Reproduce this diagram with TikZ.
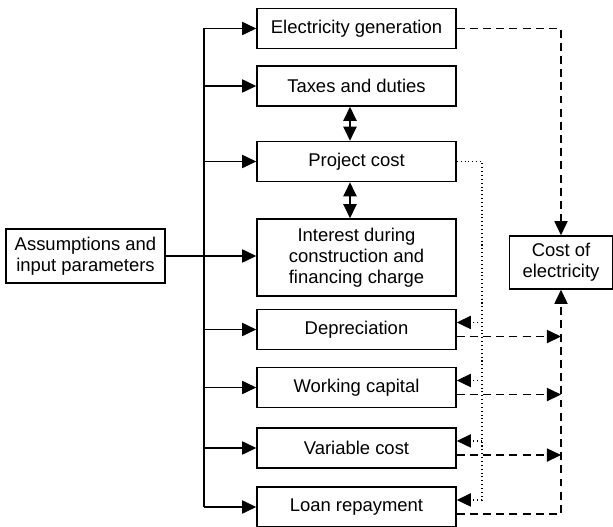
\documentclass[tikz,border=0pt]{standalone}
\usepackage{fontspec}
\setmainfont{Liberation Sans}
\usetikzlibrary{arrows.meta}

\begin{document}
\begin{tikzpicture}[x=0.02cm,y=-0.02cm,
  >={Triangle[length=8pt,width=7.5pt]},
  line width=0.7pt,
  box/.style={draw,line width=0.9pt,minimum width=3.98cm,minimum height=0.8cm,
    inner sep=2pt,align=center,font=\fontsize{10.5}{12}\selectfont},
  dashline/.style={dash pattern=on 4.5pt off 3pt},
  dotline/.style={dash pattern=on 0.6pt off 1.6pt}]
\useasboundingbox (0,0) rectangle (613,527);

% input box
\node[box,minimum width=3.18cm,minimum height=1.08cm] (inp) at (85.5,256) {Assumptions and\\input parameters};

% calculation boxes
\node[box] (gen) at (356.5,28.5) {Electricity generation};
\node[box] (tax) at (356.5,86) {Taxes and duties};
\node[box] (proj) at (356.5,161.5) {Project cost};
\node[box,minimum height=1.54cm] (intr) at (356.5,257.5) {Interest during\\construction and\\financing charge};
\node[box] (dep) at (356.5,329.5) {Depreciation};
\node[box] (wc) at (356.5,387.5) {Working capital};
\node[box] (var) at (356.5,448) {Variable cost};
\node[box] (loan) at (356.5,507) {Loan repayment};

% result box
\node[box,minimum width=2.06cm,minimum height=1.06cm] (coe) at (561,262.5) {Cost of\\electricity};

% input bus
\coordinate (bus) at (204,0);
\draw[->] (inp.east) -- (inp.east -| intr.west);
\draw (gen.west -| bus) -- (loan.west -| bus);
\foreach \b in {gen,tax,proj,dep,wc,var,loan}
  \draw[->] (\b.west -| bus) -- (\b.west);

% project cost links
\draw[<->,line width=0.9pt] ([xshift=-3.7pt]tax.south) -- ([xshift=-3.7pt]proj.north);
\draw[<->,line width=0.9pt] ([xshift=-3.7pt]proj.south) -- ([xshift=-3.7pt]intr.north);

% dotted feed from project cost
\coordinate (dot) at (482,0);
\draw[dotline] (proj.east) -| ([yshift=4pt]loan.east -| dot);
\foreach \b in {dep,wc,var,loan}
  \draw[dotline,->] ([yshift=4pt]\b.east -| dot) -- ([yshift=4pt]\b.east);

% dashed paths to cost of electricity
\draw[dashline,->] (gen.east) -| (coe.north);
\foreach \b in {dep,wc,var}
  \draw[dashline,->] ([yshift=-4pt]\b.east) -- ([yshift=-4pt]\b.east -| coe.south);
\draw[dashline,->] ([yshift=-4pt]loan.east) -| (coe.south);
\end{tikzpicture}
\end{document}
